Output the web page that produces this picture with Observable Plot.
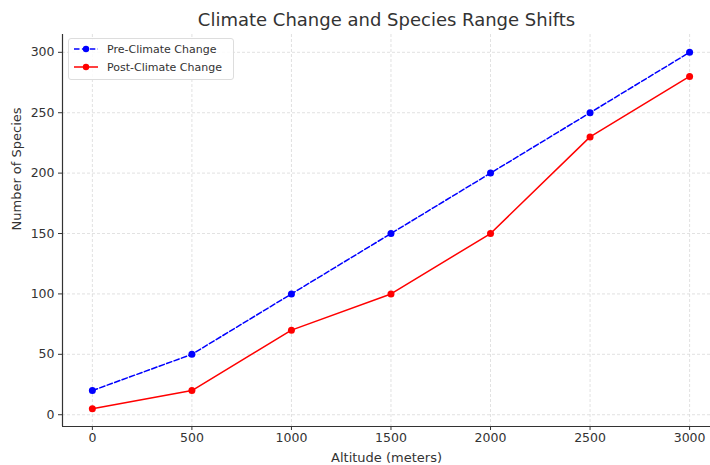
<!DOCTYPE html>
<html><head><meta charset="utf-8">
<script src="https://cdn.jsdelivr.net/npm/d3@7"></script>
<script src="https://cdn.jsdelivr.net/npm/@observablehq/plot@0.6"></script>
<style>
body{margin:0;background:#fff;font-family:"DejaVu Sans",sans-serif;}
#wrap{position:relative;width:710px;height:465px;}
#legend{position:absolute;left:68px;top:38px;width:164px;height:40px;border:1px solid #ddd;border-radius:3px;background:rgba(255,255,255,0.85);font-size:11px;color:#333;}
#legend .row{position:absolute;left:4px;height:16px;display:flex;align-items:center;}
#legend svg{margin-right:8px;}
</style></head>
<body><div id="wrap"></div>
<script>
const altitude = [0, 500, 1000, 1500, 2000, 2500, 3000];
const preSpecies = [20, 50, 100, 150, 200, 250, 300];
const postSpecies = [5, 20, 70, 100, 150, 230, 280];
const xTicks = [0, 500, 1000, 1500, 2000, 2500, 3000];
const yTicks = [0, 50, 100, 150, 200, 250, 300];
const seriesNames = ["Pre-Climate Change", "Post-Climate Change"];
const title = "Climate Change and Species Range Shifts";

const pre = altitude.map((a,i)=>({a, v: preSpecies[i]}));
const post = altitude.map((a,i)=>({a, v: postSpecies[i]}));
const xDom = [-150, 3105], yDom = [-9.75, 314.75];
const fmt = d => String(d);

const chart = Plot.plot({
  width: 710, height: 465,
  marginLeft: 62, marginRight: 0, marginTop: 34, marginBottom: 39,
  style: {fontFamily: '"DejaVu Sans", sans-serif', fontSize: "12.5px", color: "#333"},
  x: {domain: xDom, label: null},
  y: {domain: yDom, label: null},
  marks: [
    Plot.gridX(xTicks, {stroke: "#d9d9d9", strokeOpacity: 1, strokeDasharray: "3,2", strokeWidth: 0.8}),
    Plot.gridY(yTicks, {stroke: "#d9d9d9", strokeOpacity: 1, strokeDasharray: "3,2", strokeWidth: 0.8}),
    Plot.axisX(xTicks, {tickFormat: fmt, tickSize: 4, tickPadding: 3, fontSize: 12.5, fill: "#333", stroke: "#333", label: null}),
    Plot.axisY(yTicks, {tickFormat: fmt, tickSize: 4, tickPadding: 4, fontSize: 12.5, fill: "#333", stroke: "#333", label: null}),
    Plot.ruleX([xDom[0]], {stroke: "#333", strokeWidth: 1.2}),
    Plot.ruleY([yDom[0]], {stroke: "#333", strokeWidth: 1.2}),
    Plot.line(pre, {x: "a", y: "v", stroke: "#0000ff", strokeWidth: 1.5, strokeDasharray: "5.5,2.4"}),
    Plot.dot(pre, {x: "a", y: "v", fill: "#0000ff", r: 3.5}),
    Plot.line(post, {x: "a", y: "v", stroke: "#ff0000", strokeWidth: 1.5}),
    Plot.dot(post, {x: "a", y: "v", fill: "#ff0000", r: 3.5}),
    Plot.text([title], {frameAnchor: "top", dy: -14, fontSize: 18, fill: "#333", lineAnchor: "middle"}),
    Plot.text(["Altitude (meters)"], {frameAnchor: "bottom", dy: 31, fontSize: 13, fill: "#333", lineAnchor: "middle"}),
    Plot.text(["Number of Species"], {frameAnchor: "left", dx: -46, rotate: -90, fontSize: 13, fill: "#333", lineAnchor: "middle"})
  ]
});
const wrap = document.getElementById("wrap");
wrap.appendChild(chart);
const leg = document.createElement("div");
leg.id = "legend";
leg.innerHTML = `
<div class="row" style="top:2px"><svg width="26" height="10"><line x1="1" y1="5" x2="25" y2="5" stroke="#0000ff" stroke-width="1.5" stroke-dasharray="5.5,2.4"/><circle cx="13" cy="5" r="3.2" fill="#0000ff"/></svg>${seriesNames[0]}</div>
<div class="row" style="top:20px"><svg width="26" height="10"><line x1="1" y1="5" x2="25" y2="5" stroke="#ff0000" stroke-width="1.5"/><circle cx="13" cy="5" r="3.2" fill="#ff0000"/></svg>${seriesNames[1]}</div>`;
wrap.appendChild(leg);
</script></body></html>
